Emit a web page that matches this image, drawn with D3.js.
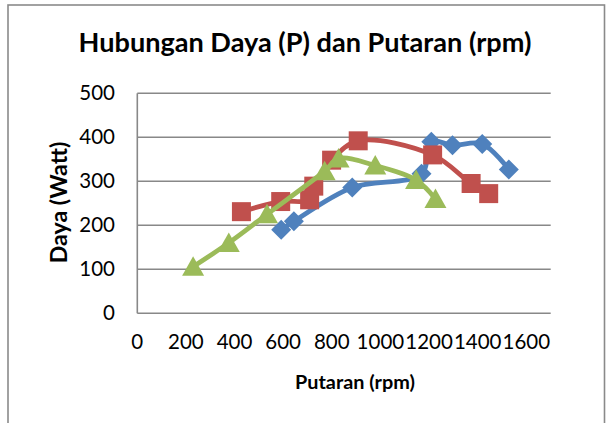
<!DOCTYPE html>
<html>
<head>
<meta charset="utf-8">
<script src="https://cdn.jsdelivr.net/npm/d3@7"></script>
<style>
  body { margin: 0; background: #fff; }
  text { font-family: Lato, "Open Sans", sans-serif; fill: #000; }
</style>
</head>
<body>
<svg id="chart" width="608" height="423"></svg>
<script>
// data
const rpmBlue = [557, 606, 832, 1100, 1138, 1220, 1335, 1438];
const dayaBlue = [190, 209, 286, 317, 390, 382, 385, 327];
const rpmRed = [403, 555, 667, 683, 752, 855, 1143, 1292, 1360];
const dayaRed = [231, 254, 258, 289, 348, 392, 360, 295, 272];
const rpmGreen = [216, 354, 502, 725, 779, 921, 1079, 1154];
const dayaGreen = [106, 160, 225, 323, 352, 336, 303, 260];

const xTicks = [0, 200, 400, 600, 800, 1000, 1200, 1400, 1600];
const yTicks = [0, 100, 200, 300, 400, 500];

const titleText = 'Hubungan Daya (P) dan Putaran (rpm)';
const xTitle = 'Putaran (rpm)';
const yTitle = 'Daya (Watt)';

let series = [
  {name: 'blue', rpm: rpmBlue, daya: dayaBlue, color: '#4f81bd', marker: 'diamond'},
  {name: 'red', rpm: rpmRed, daya: dayaRed, color: '#c0504d', marker: 'square'},
  {name: 'green', rpm: rpmGreen, daya: dayaGreen, color: '#9bbb59', marker: 'triangle'}
];

let svg = d3.select('#chart');

let plotL = 137.3, plotR = 550.7, plotT = 93.3, plotB = 313.3;

let x = d3.scaleLinear().domain([0, 1600]).range([plotL, plotR]);
let y = d3.scaleLinear().domain([0, 500]).range([plotB, plotT]);
// excel squeezed the crowded x labels a bit to the left
let xLab = d3.scaleLinear().domain([0, 1600]).range([136.7, 525.8]);

// outer chart border
svg.append('rect')
  .attr('x', 8).attr('y', 5)
  .attr('width', 596.5).attr('height', 440)
  .attr('fill', 'none')
  .attr('stroke', '#8a8a8a')
  .attr('stroke-width', 1.6);

// gridlines
svg.append('g')
  .selectAll('line')
  .data(yTicks)
  .enter().append('line')
  .attr('x1', plotL).attr('x2', plotR)
  .attr('y1', d => y(d)).attr('y2', d => y(d))
  .attr('stroke', '#888')
  .attr('stroke-width', 1.6);

// left axis line
svg.append('line')
  .attr('x1', plotL).attr('x2', plotL)
  .attr('y1', plotT).attr('y2', plotB)
  .attr('stroke', '#888')
  .attr('stroke-width', 1.6);

// y tick labels
let yAxis = svg.append('g')
  .attr('transform', 'translate(115,0)')
  .call(d3.axisLeft(y).tickValues(yTicks).tickSize(0).tickPadding(0));
yAxis.select('.domain').remove();
yAxis.selectAll('text')
  .attr('font-size', 20.5)
  .attr('font-family', 'Lato')
  .attr('fill', '#000');

// x tick labels
let xAxis = svg.append('g')
  .attr('transform', 'translate(0,' + (plotB + 21) + ')')
  .call(d3.axisBottom(xLab).tickValues(xTicks).tickSize(0).tickPadding(0).tickFormat(d3.format('d')));
xAxis.select('.domain').remove();
xAxis.selectAll('text')
  .attr('font-size', 20.5)
  .attr('font-family', 'Lato')
  .attr('fill', '#000');

function fit(sel, w) {
  let len = sel.node().getComputedTextLength();
  let fs = parseFloat(sel.attr('font-size'));
  sel.attr('font-size', fs * w / len);
}

let title = svg.append('text')
  .attr('x', 305).attr('y', 52)
  .attr('text-anchor', 'middle')
  .attr('font-weight', 'bold')
  .attr('font-size', 26)
  .text(titleText);
fit(title, 453);

let xt = svg.append('text')
  .attr('x', 355).attr('y', 389)
  .attr('text-anchor', 'middle')
  .attr('font-weight', 'bold')
  .attr('font-size', 20)
  .text(xTitle);
fit(xt, 120);

let yt = svg.append('text')
  .attr('transform', 'translate(66.5,202.5) rotate(-90)')
  .attr('text-anchor', 'middle')
  .attr('font-weight', 'bold')
  .attr('font-size', 20)
  .text(yTitle);
fit(yt, 121.6);

let line = d3.line()
  .x(d => x(d[0]))
  .y(d => y(d[1]))
  .curve(d3.curveCatmullRom.alpha(0.5));

function markerPath(type) {
  if (type === 'diamond') return 'M0,-10L10,0L0,10L-10,0Z';
  if (type === 'square') return 'M-9.5,-9.5H9.5V9.5H-9.5Z';
  return 'M0,-10.5L11,9H-11Z';
}

series.forEach(function(s) {
  let pts = s.rpm.map((r, i) => [r, s.daya[i]]);
  let g = svg.append('g').attr('class', 'series ' + s.name);
  g.append('path')
    .datum(pts)
    .attr('d', line)
    .attr('fill', 'none')
    .attr('stroke', s.color)
    .attr('stroke-width', 4.8)
    .attr('stroke-linejoin', 'round')
    .attr('stroke-linecap', 'round');
  g.selectAll('path.mark')
    .data(pts)
    .enter().append('path')
    .attr('class', 'mark')
    .attr('transform', d => 'translate(' + x(d[0]) + ',' + y(d[1]) + ')')
    .attr('d', markerPath(s.marker))
    .attr('fill', s.color);
});
</script>
</body>
</html>
